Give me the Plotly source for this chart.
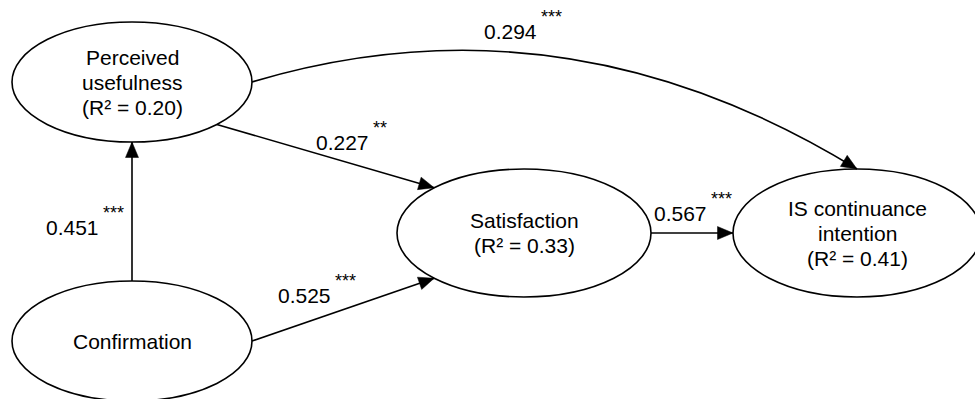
import math
import plotly.graph_objects as go

# ---------------- data ----------------
node_names = ["Perceived usefulness", "Confirmation", "Satisfaction", "IS continuance intention"]
node_label_lines = [["Perceived", "usefulness"], ["Confirmation"], ["Satisfaction"], ["IS continuance", "intention"]]
r_squared = [0.20, None, 0.33, 0.41]

edge_from = ["Confirmation", "Perceived usefulness", "Confirmation", "Satisfaction", "Perceived usefulness"]
edge_to = ["Perceived usefulness", "Satisfaction", "Satisfaction", "IS continuance intention", "IS continuance intention"]
path_coef = [0.451, 0.227, 0.525, 0.567, 0.294]
significance = ["***", "**", "***", "***", "***"]

# ---------------- layout (positions / styles) ----------------
W, H = 975, 399
node_geom = {  # center x, center y, rx, ry
    "Perceived usefulness": (132, 82, 120, 60),
    "Confirmation": (132, 341, 120, 60),
    "Satisfaction": (524, 233, 127, 64),
    "IS continuance intention": (857, 233, 124, 64),
}
# boundary angles (degrees) for start / end of each edge
edge_angles = [(-90, 90), (45, 225), (0, 135), (0, 180), (0, -90)]
edge_curve_ctrl = [None, None, None, None, (564, -11)]
label_anchor = [(100, 227), (370, 142), (332, 295), (708, 213), (538, 31)]  # right end of number, y centre
STAR_DX, STAR_DY = 2, -14
LINE_GAP = 25
FONT = "Liberation Sans, Arial, Helvetica, sans-serif"
FS = 21
STAR_FS = 18
LW = 1.6
AH_LEN, AH_HALF = 15.5, 6.5


def boundary(name, ang):
    cx, cy, rx, ry = node_geom[name]
    a = math.radians(ang)
    return cx + rx * math.cos(a), cy + ry * math.sin(a)


def arrowhead(tip, d):
    n = math.hypot(*d)
    ux, uy = d[0] / n, d[1] / n
    bx, by = tip[0] - AH_LEN * ux, tip[1] - AH_LEN * uy
    px, py = -uy, ux
    return (f"M{tip[0]},{tip[1]} L{bx + AH_HALF * px},{by + AH_HALF * py} "
            f"L{bx - AH_HALF * px},{by - AH_HALF * py} Z")


shapes = []
annotations = []

# nodes
for name, lines, r2 in zip(node_names, node_label_lines, r_squared):
    cx, cy, rx, ry = node_geom[name]
    shapes.append(dict(type="circle", xref="x", yref="y", x0=cx - rx, x1=cx + rx, y0=cy - ry, y1=cy + ry,
                       line=dict(color="black", width=LW), fillcolor="rgba(0,0,0,0)", layer="above"))
    all_lines = list(lines) + ([f"(R² = {r2:.2f})"] if r2 is not None else [])
    k = len(all_lines)
    for i, t in enumerate(all_lines):
        annotations.append(dict(x=cx, y=cy + (i - (k - 1) / 2) * LINE_GAP, xref="x", yref="y", text=t,
                                showarrow=False, xanchor="center", yanchor="middle",
                                font=dict(family=FONT, size=FS, color="black")))

# edges
for src, dst, (a0, a1), ctrl, coef, sig, (lx, ly) in zip(edge_from, edge_to, edge_angles, edge_curve_ctrl,
                                                       path_coef, significance, label_anchor):
    p0 = boundary(src, a0)
    p1 = boundary(dst, a1)
    if ctrl is None:
        path = f"M{p0[0]},{p0[1]} L{p1[0]},{p1[1]}"
        d = (p1[0] - p0[0], p1[1] - p0[1])
    else:
        path = f"M{p0[0]},{p0[1]} Q{ctrl[0]},{ctrl[1]} {p1[0]},{p1[1]}"
        d = (p1[0] - ctrl[0], p1[1] - ctrl[1])
    shapes.append(dict(type="path", xref="x", yref="y", path=path, line=dict(color="black", width=LW)))
    shapes.append(dict(type="path", xref="x", yref="y", path=arrowhead(p1, d),
                       line=dict(color="black", width=0.5), fillcolor="black"))
    annotations.append(dict(x=lx, y=ly, xref="x", yref="y", text=f"{coef:.3f}", showarrow=False,
                            xanchor="right", yanchor="middle", borderpad=0,
                            font=dict(family=FONT, size=FS, color="black")))
    annotations.append(dict(x=lx + STAR_DX, y=ly + STAR_DY, xref="x", yref="y", text=sig, showarrow=False,
                            xanchor="left", yanchor="middle", borderpad=0,
                            font=dict(family=FONT, size=STAR_FS, color="black")))

fig = go.Figure()
fig.add_trace(go.Scatter(x=[], y=[]))
fig.update_layout(
    width=W, height=H, margin=dict(l=0, r=0, t=0, b=0),
    paper_bgcolor="white", plot_bgcolor="white", showlegend=False,
    xaxis=dict(range=[0, W], visible=False, fixedrange=True),
    yaxis=dict(range=[H, 0], visible=False, fixedrange=True),
    shapes=shapes, annotations=annotations,
)
fig.write_html("out.html", config={"displayModeBar": False})
